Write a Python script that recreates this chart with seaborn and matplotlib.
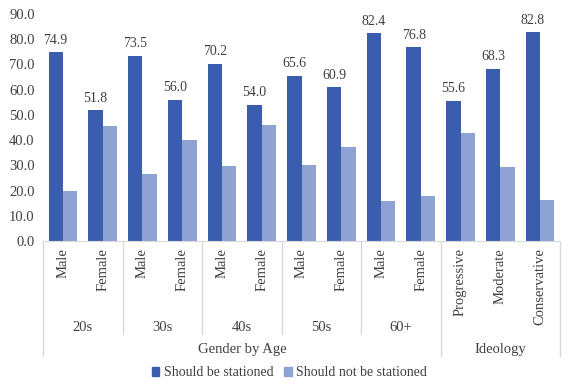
#!/usr/bin/env python3

import numpy as np
import pandas as pd
import matplotlib
matplotlib.use("Agg")
import matplotlib.pyplot as plt
import seaborn as sns

# categories (bottom level labels, middle groups, top groups)
sub_labels = ["Male", "Female", "Male", "Female", "Male", "Female", "Male", "Female",
              "Male", "Female", "Progressive", "Moderate", "Conservative"]
mid_groups = ["20s", "30s", "40s", "50s", "60+"]
top_groups = ["Gender by Age", "Ideology"]

should_be = [74.9, 51.8, 73.5, 56.0, 70.2, 54.0, 65.6, 60.9, 82.4, 76.8, 55.6, 68.3, 82.8]
should_not = [19.9, 45.6, 26.5, 40.1, 29.6, 45.9, 30.2, 37.2, 16.0, 17.9, 42.7, 29.5, 16.1]

series_names = ["Should be stationed", "Should not be stationed"]
colors = ["#3A5DAE", "#8EA2D4"]
text_col = "#404040"
line_col = "#D9D9D9"

sns.set_style("white")
plt.rcParams['font.family'] = ['Liberation Serif', 'DejaVu Serif']
plt.rcParams['font.size'] = 10.5

keys = ["c%02d" % i for i in range(len(sub_labels))]
df = pd.DataFrame({
    "cat": keys * 2,
    "value": should_be + should_not,
    "series": [series_names[0]] * len(keys) + [series_names[1]] * len(keys),
})

fig = plt.figure(figsize=(5.73, 3.89), dpi=100)
ax = fig.add_axes([43/573, 1 - 241/389, 517/573, 227/389])

sns.barplot(data=df, x="cat", y="value", hue="series", order=keys,
            hue_order=series_names, palette=colors, saturation=1,
            width=0.72, linewidth=0, ax=ax)

ax.set_ylim(0, 90)
ax.set_xlim(-0.5, len(keys) - 0.5)
ax.set_yticks(np.arange(0, 91, 10))
ax.set_yticklabels(["%.1f" % v for v in np.arange(0, 91, 10)], color=text_col)
ax.tick_params(axis="y", length=0, pad=6)
ax.set_xticks(range(len(keys)))
ax.set_xticklabels(sub_labels, rotation=90, color=text_col, va="top", ha="center")
ax.tick_params(axis="x", length=0, pad=5)
ax.set_xlabel("")
ax.set_ylabel("")
for s in ["top", "right", "left"]:
    ax.spines[s].set_visible(False)
ax.spines["bottom"].set_color(line_col)

# value labels on the first series
for bar, v in zip(ax.containers[0], should_be):
    ax.annotate("%.1f" % v, (bar.get_x() + bar.get_width() / 2, bar.get_height()),
                xytext=(0, 4), textcoords="offset points", ha="center", va="bottom",
                color=text_col, fontsize=10)

# multi-level category axis
tr = ax.get_xaxis_transform()
mid_y, top_y = -0.41, -0.507
for x in [1.5, 3.5, 5.5, 7.5]:
    ax.plot([x, x], [0, mid_y], transform=tr, color=line_col, lw=1, clip_on=False)
for x in [-0.5, 9.5, 12.5]:
    ax.plot([x, x], [0, top_y], transform=tr, color=line_col, lw=1, clip_on=False)
for i, g in enumerate(mid_groups):
    ax.text(2 * i + 0.5, -0.379, g, transform=tr, ha="center", va="center", color=text_col)
ax.text(4.5, -0.476, top_groups[0], transform=tr, ha="center", va="center", color=text_col)
ax.text(11, -0.476, top_groups[1], transform=tr, ha="center", va="center", color=text_col)

ax.legend_.remove()
handles = [plt.Rectangle((0, 0), 1, 1, color=c) for c in colors]
fig.legend(handles, series_names, loc="center", bbox_to_anchor=(0.505, 1 - 373/389),
           ncol=2, frameon=False, handlelength=0.55, handleheight=0.55,
           handletextpad=0.3, columnspacing=0.8, labelcolor=text_col, fontsize=10)

fig.savefig("out.png", dpi=100)
